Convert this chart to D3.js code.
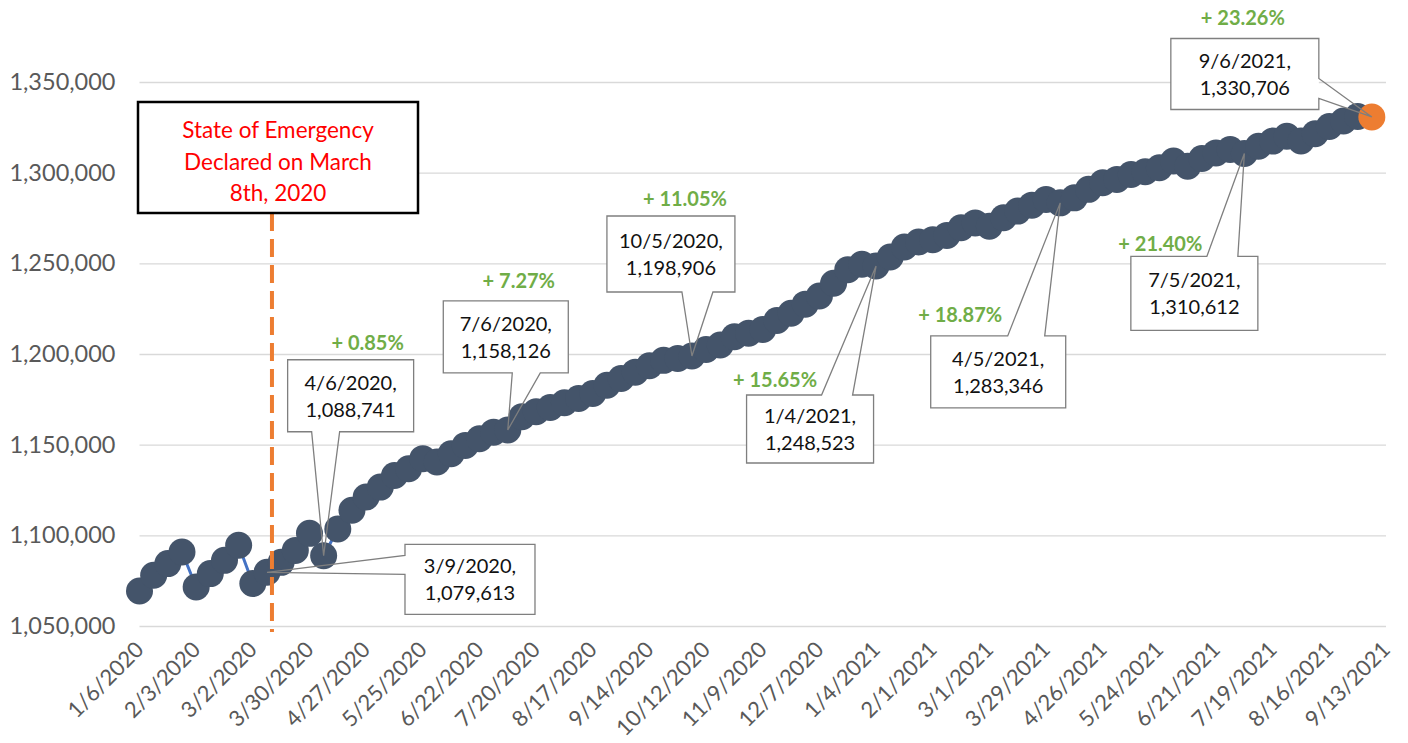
<!DOCTYPE html>
<html>
<head>
<meta charset="utf-8">
<script src="https://cdn.jsdelivr.net/npm/d3@7"></script>
<style>
  body { margin: 0; background: #fff; }
  text { font-family: Lato, "Open Sans", sans-serif; }
</style>
</head>
<body>
<div id="chart"></div>
<script>
// weekly counts, first week 1/6/2020, last week 9/6/2021
const startDate = "1/6/2020";
const endDate = "9/13/2021";
const values = [
  1069300, 1078000, 1084400, 1090800, 1071500, 1078900, 1086200, 1094500,
  1073400, 1079613, 1085100, 1091700, 1101100, 1088741, 1103500, 1113800,
  1121100, 1126600, 1133000, 1136700, 1142300, 1140400, 1145000, 1149600,
  1153300, 1156900, 1158126, 1165400, 1168200, 1170500, 1173100, 1175500,
  1178200, 1182800, 1186500, 1190000, 1193500, 1196500, 1197500, 1198906,
  1202500, 1205000, 1209500, 1211500, 1213500, 1218500, 1222500, 1227500,
  1232000, 1239000, 1246500, 1249500, 1248523, 1253500, 1259000, 1261800,
  1263000, 1265400, 1269600, 1272300, 1270500, 1275100, 1278800, 1282100,
  1285200, 1283346, 1286100, 1290800, 1294400, 1296300, 1299000, 1300500,
  1302700, 1306400, 1303600, 1307800, 1310900, 1312800, 1310612, 1314600,
  1317400, 1320100, 1317500, 1321500, 1325500, 1328500, 1331000, 1330706
];
const tickLabels = [
  "1/6/2020", "2/3/2020", "3/2/2020", "3/30/2020", "4/27/2020", "5/25/2020",
  "6/22/2020", "7/20/2020", "8/17/2020", "9/14/2020", "10/12/2020", "11/9/2020",
  "12/7/2020", "1/4/2021", "2/1/2021", "3/1/2021", "3/29/2021", "4/26/2021",
  "5/24/2021", "6/21/2021", "7/19/2021", "8/16/2021", "9/13/2021"
];
const yTicks = [1050000, 1100000, 1150000, 1200000, 1250000, 1300000, 1350000];
const baseDate = "3/9/2020";
const calloutDates = ["3/9/2020", "4/6/2020", "7/6/2020", "10/5/2020", "1/4/2021", "4/5/2021", "7/5/2021", "9/6/2021"];
const pctDates = ["4/6/2020", "7/6/2020", "10/5/2020", "1/4/2021", "4/5/2021", "7/5/2021", "9/6/2021"];
const emergencyDate = "3/8/2020";
const emergencyText = ["State of Emergency", "Declared on March", "8th, 2020"];

// callout box placement relative to its point (layout only)
const calloutLayout = [
  { dx: 203, dy: 7, w: 130, h: 70, side: "left", a: 11, b: 30 },
  { dx: 27, dy: -160, w: 126, h: 72, side: "bottom", a: 24, b: 52 },
  { dx: -2, dy: -93, w: 125, h: 72, side: "bottom", a: 69, b: 97 },
  { dx: -21, dy: -102, w: 128, h: 76, side: "bottom", a: 75, b: 106 },
  { dx: -66, dy: 163, w: 127, h: 68, side: "top", a: 75, b: 106 },
  { dx: -62, dy: 169, w: 135, h: 72, side: "top", a: 77, b: 114 },
  { dx: -50, dy: 140, w: 127, h: 74, side: "top", a: 76, b: 107 },
  { dx: -127, dy: -43, w: 148, h: 71, side: "right", a: 40, b: 60 }
];
const pctLayout = [[44, -213], [11, -149], [-7, -157], [-101, 114], [-100, 112], [-84, 91], [-129, -99]];

const svgWidth = 1408;
const svgHeight = 743;
const parse = d3.timeParse("%m/%d/%Y");
const fmtDate = d3.timeFormat("%-m/%-d/%Y");

const start = parse(startDate);
const data = values.map(function(v, i) {
  return { date: d3.timeDay.offset(start, 7 * i), value: v };
});
const byDate = new Map(data.map(d => [fmtDate(d.date), d]));

const svg = d3.select("#chart")
    .append("svg")
    .attr("width", svgWidth)
    .attr("height", svgHeight)
    .style("background", "#fff");

const x = d3.scaleTime()
    .domain([start, parse(endDate)])
    .range([139.5, 1386]);

const y = d3.scaleLinear()
    .domain([yTicks[0], yTicks[yTicks.length - 1]])
    .range([626, 82]);

// gridlines
svg.append("g")
    .attr("transform", `translate(${x.range()[0]},0)`)
    .call(d3.axisLeft(y).tickValues(yTicks).tickSize(-(x.range()[1] - x.range()[0])).tickFormat(""))
    .call(g => g.select(".domain").remove())
    .call(g => g.selectAll("line").attr("stroke", "#d9d9d9").attr("stroke-width", 1.3));

// y labels
svg.append("g")
    .attr("transform", `translate(${x.range()[0]},0)`)
    .call(d3.axisLeft(y).tickValues(yTicks).tickSize(0).tickPadding(24).tickFormat(d3.format(",")))
    .call(g => g.select(".domain").remove())
    .call(g => g.selectAll("text")
        .attr("fill", "#595959")
        .style("font-size", "23.5px")
        .style("font-family", "Lato, sans-serif"));

// x labels
svg.append("g")
    .attr("transform", `translate(0,${y.range()[0]})`)
    .call(d3.axisBottom(x).tickValues(tickLabels.map(parse)).tickSize(0).tickFormat(fmtDate))
    .call(g => g.select(".domain").remove())
    .call(g => g.selectAll("text")
        .attr("x", 0).attr("y", 0).attr("dy", 0)
        .attr("transform", "translate(5,25) rotate(-45)")
        .style("text-anchor", "end")
        .attr("fill", "#595959")
        .style("font-size", "22px")
        .style("font-family", "Lato, sans-serif"));

// series line
svg.append("path")
    .datum(data)
    .attr("fill", "none")
    .attr("stroke", "#4472c4")
    .attr("stroke-width", 3)
    .attr("d", d3.line()
        .x(d => x(d.date))
        .y(d => y(d.value)));

svg.append("g").selectAll("circle")
    .data(data)
    .join("circle")
    .attr("cx", d => x(d.date))
    .attr("cy", d => y(d.value))
    .attr("r", 13.5)
    .attr("fill", (d, i) => i === data.length - 1 ? "#ed7d31" : "#44546a");

// state of emergency marker
const ex = x(parse(emergencyDate)) + 7;
svg.append("line")
    .attr("x1", ex).attr("x2", ex)
    .attr("y1", 213).attr("y2", y.range()[0] + 6)
    .attr("stroke", "#ed7d31")
    .attr("stroke-width", 4)
    .attr("stroke-dasharray", "18,8");

const eBox = svg.append("g").attr("transform", "translate(138,102)");
eBox.append("rect")
    .attr("width", 280).attr("height", 111)
    .attr("fill", "#fff")
    .attr("stroke", "#000")
    .attr("stroke-width", 2.5);
eBox.append("text")
    .attr("x", 140)
    .attr("text-anchor", "middle")
    .attr("fill", "#ff0000")
    .style("font-size", "22.5px")
    .selectAll("tspan")
    .data(emergencyText)
    .join("tspan")
    .attr("x", 140)
    .attr("y", (d, i) => 36 + i * 31.5)
    .text(d => d);

// callouts
function calloutPath(bx, by, w, h, side, a, b, tx, ty) {
  const p = [[bx, by]];
  if (side === "top") p.push([bx + a, by], [tx, ty], [bx + b, by]);
  p.push([bx + w, by]);
  if (side === "right") p.push([bx + w, by + a], [tx, ty], [bx + w, by + b]);
  p.push([bx + w, by + h]);
  if (side === "bottom") p.push([bx + b, by + h], [tx, ty], [bx + a, by + h]);
  p.push([bx, by + h]);
  if (side === "left") p.push([bx, by + b], [tx, ty], [bx, by + a]);
  return "M" + p.join("L") + "Z";
}

calloutDates.forEach(function(ds, i) {
  const d = byDate.get(ds);
  const L = calloutLayout[i];
  const px = x(d.date), py = y(d.value);
  const bx = px + L.dx - L.w / 2, by = py + L.dy - L.h / 2;
  const g = svg.append("g");
  g.append("rect")
      .attr("x", bx).attr("y", by)
      .attr("width", L.w).attr("height", L.h)
      .attr("fill", "#fff");
  g.append("path")
      .attr("d", calloutPath(bx, by, L.w, L.h, L.side, L.a, L.b, px, py))
      .attr("fill", "none")
      .attr("stroke", "#7f7f7f")
      .attr("stroke-width", 1.3);
  g.append("text")
      .attr("text-anchor", "middle")
      .attr("fill", "#111")
      .style("font-size", "20px")
      .selectAll("tspan")
      .data([ds + ",", d3.format(",")(d.value)])
      .join("tspan")
      .attr("x", bx + L.w / 2)
      .attr("y", (t, k) => by + L.h / 2 - 6 + k * 27)
      .text(t => t);
});

// growth since the emergency week
const base = byDate.get(baseDate).value;
svg.append("g").selectAll("text")
    .data(pctDates)
    .join("text")
    .attr("x", (ds, i) => x(byDate.get(ds).date) + pctLayout[i][0])
    .attr("y", (ds, i) => y(byDate.get(ds).value) + pctLayout[i][1])
    .attr("dy", "0.35em")
    .attr("text-anchor", "middle")
    .attr("fill", "#70ad47")
    .style("font-size", "20px")
    .style("font-weight", "bold")
    .text(ds => "+ " + ((byDate.get(ds).value / base - 1) * 100).toFixed(2) + "%");
</script>
</body>
</html>
